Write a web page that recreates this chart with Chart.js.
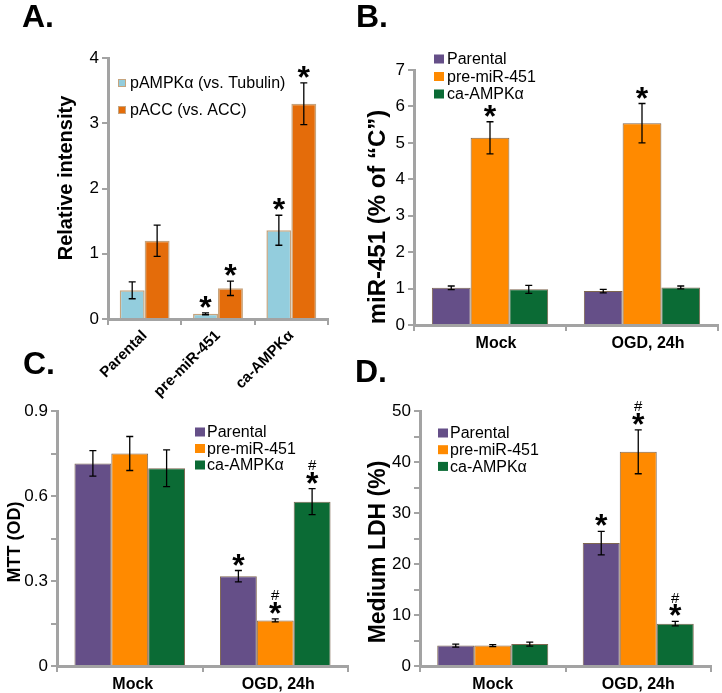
<!DOCTYPE html>
<html><head><meta charset="utf-8">
<script src="https://cdn.jsdelivr.net/npm/chart.js@4.4.1/dist/chart.umd.min.js"></script>
<style>
html,body{margin:0;padding:0;background:#fff;}
#wrap{position:relative;width:722px;height:693px;overflow:hidden;background:#fff;}
canvas{position:absolute;left:0;top:0;}
.pl{position:absolute;font:bold 32px 'Liberation Sans',Arial,sans-serif;line-height:32px;color:#000;white-space:nowrap;}
</style></head><body>
<div id="wrap">
<canvas id="cA" width="722" height="693"></canvas>
<canvas id="cB" width="722" height="693"></canvas>
<canvas id="cC" width="722" height="693"></canvas>
<canvas id="cD" width="722" height="693"></canvas>
<div class="pl" style="left:22px;top:0px">A.</div>
<div class="pl" style="left:356px;top:0px">B.</div>
<div class="pl" style="left:23px;top:347px">C.</div>
<div class="pl" style="left:355px;top:355px">D.</div>
</div>
<script>
// ---------- DATA ----------
const categoriesA = ['Parental', 'pre-miR-451', 'ca-AMPKα'];
const seriesA = ['pAMPKα (vs. Tubulin)', 'pACC (vs. ACC)'];
const pAMPK = [0.44, 0.08, 1.36];
const pAMPKErr = [0.13, 0.015, 0.23];
const pAMPKMarks = ['', '*', '*'];
const pACC = [1.20, 0.47, 3.30];
const pACCErr = [0.24, 0.11, 0.32];
const pACCMarks = ['', '*', '*'];

const groups = ['Mock', 'OGD, 24h'];
const seriesNames = ['Parental', 'pre-miR-451', 'ca-AMPKα'];

const mirParental = [1.02, 0.93];
const mirParentalErr = [0.05, 0.05];
const mirParentalMarks = ['', ''];
const mirPre = [5.14, 5.54];
const mirPreErr = [0.44, 0.54];
const mirPreMarks = ['*', '*'];
const mirCa = [0.98, 1.03];
const mirCaErr = [0.11, 0.04];
const mirCaMarks = ['', ''];

const mttParental = [0.715, 0.317];
const mttParentalErr = [0.045, 0.02];
const mttParentalMarks = ['', '*'];
const mttPre = [0.75, 0.161];
const mttPreErr = [0.06, 0.005];
const mttPreMarks = ['', '#*'];
const mttCa = [0.698, 0.58];
const mttCaErr = [0.065, 0.046];
const mttCaMarks = ['', '#*'];

const ldhParental = [4.0, 24.1];
const ldhParentalErr = [0.3, 2.3];
const ldhParentalMarks = ['', '*'];
const ldhPre = [4.0, 42.0];
const ldhPreErr = [0.2, 4.3];
const ldhPreMarks = ['', '#*'];
const ldhCa = [4.3, 8.3];
const ldhCaErr = [0.4, 0.45];
const ldhCaMarks = ['', '#*'];

const yTickA = {max: 4, step: 1, every: 1};
const yTickB = {max: 7, step: 1, every: 1};
const yTickC = {max: 0.9, step: 0.15, every: 0.3};
const yTickD = {max: 50, step: 5, every: 10};

// ---------- STYLE ----------
const FF = "'Liberation Sans', Arial, sans-serif";
const AX = '#A3A3A3';
const cBlue = '#93CDDD', cOrA = '#E46C0A', bTan = '#C6A47E';
const cPur = '#654F88', cOr = '#FF8A00', cGrn = '#0B6B35', bBrn = '#7E6650';
Chart.defaults.color = '#000';
Chart.defaults.font.family = FF;

const errMarks = {
  id: 'errMarks',
  afterDatasetsDraw(chart) {
    const ctx = chart.ctx, ys = chart.scales.y;
    chart.data.datasets.forEach((ds, i) => {
      const meta = chart.getDatasetMeta(i);
      meta.data.forEach((bar, j) => {
        const v = ds.data[j], e = ds.errors[j];
        const top = ys.getPixelForValue(v + e), bot = ys.getPixelForValue(v - e);
        ctx.save();
        ctx.strokeStyle = '#000'; ctx.lineWidth = 1.3;
        ctx.beginPath();
        ctx.moveTo(bar.x, top); ctx.lineTo(bar.x, bot);
        ctx.moveTo(bar.x - 3.5, top); ctx.lineTo(bar.x + 3.5, top);
        ctx.moveTo(bar.x - 3.5, bot); ctx.lineTo(bar.x + 3.5, bot);
        ctx.stroke();
        const m = ds.marks[j] || '';
        ctx.fillStyle = '#000'; ctx.textAlign = 'center'; ctx.textBaseline = 'alphabetic';
        if (m.indexOf('*') >= 0) {
          ctx.font = 'bold 32px ' + FF;
          ctx.fillText('*', bar.x, top + 5);
        }
        if (m.indexOf('#') >= 0) {
          ctx.font = '15px ' + FF;
          ctx.fillText('#', bar.x, top - 18.5);
        }
        ctx.restore();
      });
    });
  }
};

const boxLegend = {
  id: 'boxLegend',
  afterDraw(chart, args, o) {
    const ctx = chart.ctx;
    ctx.save();
    ctx.font = '16px ' + FF; ctx.textBaseline = 'middle'; ctx.textAlign = 'left';
    chart.data.datasets.forEach((ds, i) => {
      const cy = o.y + i * o.gap;
      ctx.fillStyle = ds.backgroundColor;
      ctx.fillRect(o.x, cy - o.bh / 2, o.bw, o.bh);
      if (o.border) { ctx.strokeStyle = ds.borderColor; ctx.lineWidth = 1; ctx.strokeRect(o.x + 0.5, cy - o.bh / 2 + 0.5, o.bw - 1, o.bh - 1); }
      ctx.fillStyle = '#000';
      ctx.fillText(ds.label, o.tx, cy + 1);
    });
    ctx.restore();
  }
};

const vTitle = {
  id: 'vTitle',
  afterDraw(chart, args, o) {
    const ctx = chart.ctx, t = chart.options.scales.y.title.text;
    ctx.save();
    ctx.translate(o.x, o.y); ctx.rotate(-Math.PI / 2);
    ctx.font = 'bold ' + o.size + 'px ' + FF; ctx.fillStyle = '#000';
    ctx.textAlign = 'center'; ctx.textBaseline = 'middle';
    ctx.fillText(t, 0, 0);
    ctx.restore();
  }
};

function ds(label, data, errors, marks, bg, bc, bw) {
  return {label, data, errors, marks, backgroundColor: bg, borderColor: bc, borderWidth: bw};
}

function makeChart(id, labels, datasets, c) {
  const yW = 40, xH = c.xH || 40;
  return new Chart(document.getElementById(id), {
    type: 'bar',
    data: {labels, datasets},
    plugins: [errMarks, boxLegend, vTitle],
    options: {
      responsive: false, animation: false, devicePixelRatio: 1,
      events: [],
      layout: {padding: {left: c.l - yW, right: 722 - c.r, top: c.t, bottom: 693 - c.b - xH}},
      datasets: {bar: {categoryPercentage: c.cp, barPercentage: 1}},
      plugins: {
        legend: {display: false}, tooltip: {enabled: false},
        boxLegend: c.legend,
        vTitle: c.title
      },
      scales: {
        x: {
          afterFit(s) { s.height = xH; s.paddingLeft = 0; s.paddingRight = 0; },
          grid: {display: true, drawOnChartArea: false, drawTicks: true, tickLength: 6, color: AX, lineWidth: 2, offset: true},
          border: {display: true, color: AX, width: 3},
          ticks: {
            font: {size: c.xSize, weight: 'bold', family: FF}, color: '#000',
            maxRotation: c.rot, minRotation: c.rot, padding: c.xPad, labelOffset: c.lo || 0, autoSkip: false
          }
        },
        y: {
          min: 0, max: c.yt.max,
          afterFit(s) { s.width = yW; },
          title: {display: false, text: c.yTitle},
          grid: {display: true, drawOnChartArea: false, drawTicks: true, tickLength: 6, color: AX, lineWidth: 2},
          border: {display: true, color: AX, width: 3},
          ticks: {
            stepSize: c.yt.step, padding: 3, font: {size: 17, family: FF}, color: '#000',
            callback(v) {
              const r = v / c.yt.every;
              return Math.abs(r - Math.round(r)) < 1e-6 ? String(+v.toFixed(2)) : '';
            }
          }
        }
      }
    }
  });
}

makeChart('cA', categoriesA, [
  ds(seriesA[0], pAMPK, pAMPKErr, pAMPKMarks, cBlue, bTan, 1.5),
  ds(seriesA[1], pACC, pACCErr, pACCMarks, cOrA, bTan, 1.5)
], {l: 108, r: 328, t: 58, b: 319, xH: 90, cp: 0.68, rot: 45, xSize: 15, xPad: 2, yt: yTickA,
   yTitle: 'Relative intensity', title: {x: 66, y: 178, size: 20},
   legend: {x: 118, y: 83, gap: 27, bw: 8, bh: 8, tx: 130, border: true}});

makeChart('cB', groups, [
  ds(seriesNames[0], mirParental, mirParentalErr, mirParentalMarks, cPur, bBrn, 1),
  ds(seriesNames[1], mirPre, mirPreErr, mirPreMarks, cOr, bBrn, 1),
  ds(seriesNames[2], mirCa, mirCaErr, mirCaMarks, cGrn, bBrn, 1)
], {l: 414, r: 718, t: 70, b: 325, cp: 0.765, rot: 0, xSize: 16, xPad: 3, lo: 6, yt: yTickB,
   yTitle: 'miR-451 (% of “C”)', title: {x: 378, y: 217, size: 24},
   legend: {x: 434, y: 59, gap: 17.5, bw: 10, bh: 9, tx: 447}});

makeChart('cC', groups, [
  ds(seriesNames[0], mttParental, mttParentalErr, mttParentalMarks, cPur, bBrn, 1),
  ds(seriesNames[1], mttPre, mttPreErr, mttPreMarks, cOr, bBrn, 1),
  ds(seriesNames[2], mttCa, mttCaErr, mttCaMarks, cGrn, bBrn, 1)
], {l: 57, r: 348, t: 411, b: 666, cp: 0.76, rot: 0, xSize: 16, xPad: 3, lo: 3, yt: yTickC,
   yTitle: 'MTT (OD)', title: {x: 15, y: 542, size: 18},
   legend: {x: 195, y: 432, gap: 16.5, bw: 10, bh: 9, tx: 207}});

makeChart('cD', groups, [
  ds(seriesNames[0], ldhParental, ldhParentalErr, ldhParentalMarks, cPur, bBrn, 1),
  ds(seriesNames[1], ldhPre, ldhPreErr, ldhPreMarks, cOr, bBrn, 1),
  ds(seriesNames[2], ldhCa, ldhCaErr, ldhCaMarks, cGrn, bBrn, 1)
], {l: 420, r: 711, t: 411, b: 666, cp: 0.763, rot: 0, xSize: 16, xPad: 3, yt: yTickD,
   yTitle: 'Medium LDH (%)', title: {x: 379, y: 552, size: 23},
   legend: {x: 438, y: 433, gap: 16.7, bw: 10, bh: 9, tx: 450}});
</script>
</body></html>
